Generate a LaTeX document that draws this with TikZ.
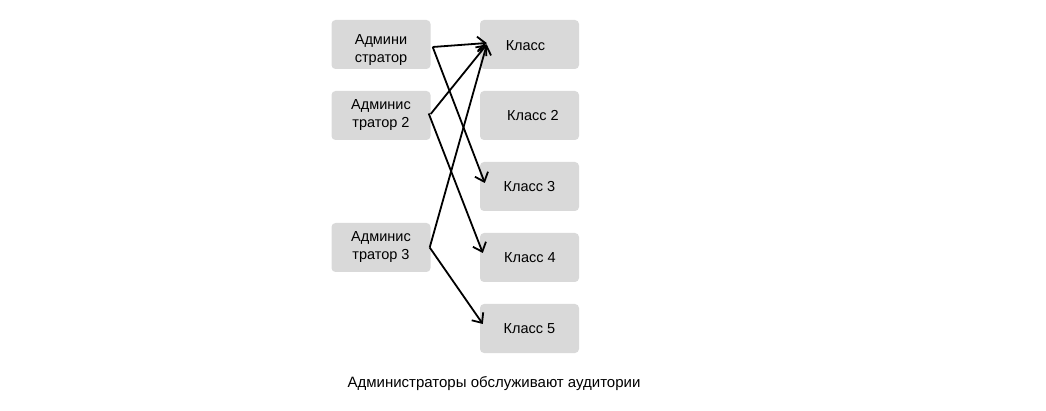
\documentclass[tikz,border=0pt]{standalone}
\usepackage{fontspec}
\setmainfont{Liberation Sans}
\usetikzlibrary{arrows.meta}
\begin{document}
\begin{tikzpicture}[x=1pt,y=-1pt,
  box/.style={fill={rgb,255:red,217;green,217;blue,217}, rounded corners=4pt, minimum width=99pt, minimum height=49pt, inner sep=0pt, align=center, font=\fontsize{14.5}{18}\selectfont},
  arr/.style={line width=1.8pt, -{Straight Barb[length=8pt,width=14pt,line width=1.8pt]}}]
\useasboundingbox (0,0) rectangle (1046,411);
\node[box] (a1) at (381,44.5) {};
\node[font=\fontsize{14.5}{18}\selectfont, align=center, inner sep=0pt] (a1t) at (381,50) {Админи\\стратор};
\node[box] (a2) at (381,115.5) {Админис\\тратор 2};
\node[box] (a3) at (381,247.5) {Админис\\тратор 3};
\node[box] (k1) at (529.5,44.5) {};
\node[font=\fontsize{14.5}{18}\selectfont, inner sep=0pt] (k1t) at (525.5,46) {Класс};
\node[box] (k2) at (529.5,115.5) {\hspace*{7pt}Класс 2};
\node[box] (k3) at (529.5,186.5) {Класс 3};
\node[box] (k4) at (529.5,257.5) {\hspace*{1pt}Класс 4};
\node[box] (k5) at (529.5,328.5) {Класс 5};
\node[font=\fontsize{15}{18}\selectfont] (cap) at (494,384) {Администраторы обслуживают аудитории};
\draw[arr] ([xshift=2pt,yshift=-2.5pt]a1.east) -- ([xshift=7pt,yshift=1.5pt]k1.west);
\draw[arr] ([xshift=2pt,yshift=-2.5pt]a1.east) -- ([xshift=5pt,yshift=3.5pt]k3.west);
\draw[arr] ([xshift=0pt,yshift=1.5pt]a2.east) -- ([xshift=7pt,yshift=0pt]k1.west);
\draw[arr] ([xshift=-2pt,yshift=2pt]a2.east) -- ([xshift=3pt,yshift=4.5pt]k4.west);
\draw[arr] ([xshift=-1pt,yshift=0pt]a3.east) -- ([xshift=7pt,yshift=0pt]k1.west);
\draw[arr] ([xshift=-1pt,yshift=0pt]a3.east) -- ([xshift=3pt,yshift=4.5pt]k5.west);
\end{tikzpicture}
\end{document}
